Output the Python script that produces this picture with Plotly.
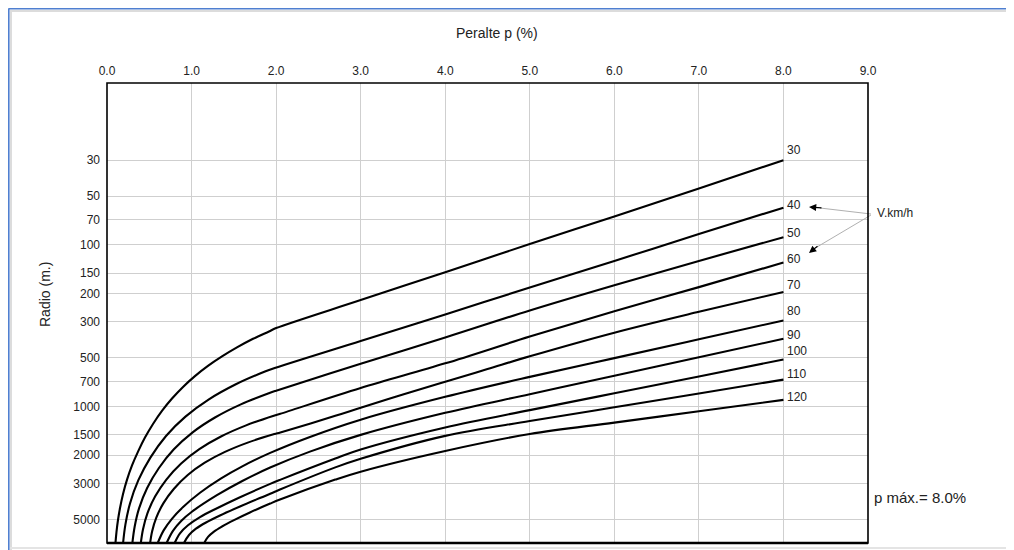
import math
import plotly.graph_objects as go

# ---------------- data ----------------
speeds = [30, 40, 50, 60, 70, 80, 90, 100, 110, 120]

p_30 = [0.10, 0.112, 0.13, 0.154, 0.189, 0.237, 0.296, 0.367, 0.449, 0.544, 0.65, 0.769, 0.899,
        1.04, 1.194, 1.36, 1.537, 1.727, 1.916, 2.0, 3.0, 4.0, 5.0, 6.0, 7.0, 8.0]
r_30 = [7000, 5990, 5045, 4250, 3490, 2840, 2320, 1905, 1560, 1285, 1066, 894, 758,
        650, 562, 491, 432, 382, 344, 328, 220, 148, 99, 67, 45, 30]

p_40 = [0.19, 0.218, 0.272, 0.371, 0.513, 0.698, 0.928, 1.201, 1.518, 1.868, 1.95, 3.0, 4.0, 5.0, 6.0, 7.0, 8.0]
r_40 = [7000, 5370, 3984, 2861, 2074, 1524, 1157, 908, 733, 609, 587, 394, 270, 184, 126, 86, 59]

p_50 = [0.30, 0.327, 0.379, 0.475, 0.612, 0.791, 1.013, 1.277, 1.583, 1.921, 2.0, 3.0, 4.0, 5.0, 6.0, 7.0, 8.0]
r_50 = [7000, 5550, 4275, 3199, 2415, 1844, 1448, 1172, 972, 827, 800, 545, 375, 255, 178, 126, 90]

p_60 = [0.40, 0.426, 0.477, 0.570, 0.702, 0.877, 1.092, 1.348, 1.645, 1.973, 2.05, 3.0, 4.0, 5.0, 6.0, 7.0, 8.0]
r_60 = [7000, 5748, 4606, 3602, 2837, 2256, 1839, 1536, 1311, 1142, 1111, 770, 542, 370, 258, 183, 129]

p_70 = [0.51, 0.534, 0.582, 0.668, 0.792, 0.955, 1.156, 1.395, 1.672, 1.979, 2.05,
        2.7, 3.0, 3.5, 4.0, 4.5, 5.0, 6.0, 7.0, 8.0]
r_70 = [7000, 5916, 4894, 3966, 3233, 2658, 2231, 1913, 1670, 1484, 1450,
        1145, 1020, 845, 705, 588, 490, 350, 260, 196]

p_80 = [0.60, 0.67, 0.77, 0.90, 1.1, 1.35, 1.6, 1.93, 2.4, 3.0, 4.0, 5.0, 6.0, 7.0, 8.0]
r_80 = [7000, 5850, 4945, 4193, 3423, 2788, 2349, 1940, 1546, 1209, 873, 657, 503, 385, 294]

p_90 = [0.705, 0.78, 0.88, 1.0, 1.3, 1.6, 1.93, 2.4, 3.0, 4.0, 5.0, 6.0, 7.0, 8.0]
r_90 = [7000, 5885, 5095, 4500, 3544, 2894, 2390, 1905, 1501, 1096, 841, 646, 497, 382]

p_100 = [0.80, 0.863, 0.958, 1.10, 1.301, 1.573, 1.93, 2.046, 2.7, 3.0, 4.0, 5.0, 6.0, 7.0, 8.0]
r_100 = [7000, 6098, 5439, 4839, 4268, 3648, 3017, 2849, 2102, 1849, 1351, 1055, 830, 653, 513]

p_110 = [0.91, 0.97, 1.052, 1.171, 1.336, 1.573, 1.93, 2.046, 2.7, 3.0, 4.0, 5.0, 6.0, 7.0, 8.0]
r_110 = [7000, 6249, 5711, 5228, 4730, 4160, 3470, 3268, 2384, 2109, 1522, 1233, 1013, 832, 683]

p_120 = [1.15, 1.195, 1.265, 1.36, 1.502, 1.69, 1.93, 2.046, 2.7, 3.0, 4.0, 5.0, 6.0, 7.0, 8.0]
r_120 = [7000, 6419, 5954, 5536, 5052, 4532, 3992, 3770, 2838, 2534, 1887, 1482, 1260, 1072, 912]

curves_p = [p_30, p_40, p_50, p_60, p_70, p_80, p_90, p_100, p_110, p_120]
curves_r = [r_30, r_40, r_50, r_60, r_70, r_80, r_90, r_100, r_110, r_120]

x_ticks = [0, 1, 2, 3, 4, 5, 6, 7, 8, 9]
y_ticks = [30, 50, 70, 100, 150, 200, 300, 500, 700, 1000, 1500, 2000, 3000, 5000, 7000]

# ---------------- styles / layout geometry ----------------
label_yshift = [10, 3, 4, 4, 7, 9, 4, 8, 6, 3]
FONT = "Liberation Sans, Arial, sans-serif"
OFF = 8                      # page body margin in the browser
W, H = 1014 - OFF, 550 - OFF
L, R, T, B = 107 - OFF, 868 - OFF, 83 - OFF, 543 - OFF


def px(xp):
    """reference page pixel x -> paper coordinate"""
    return (xp - OFF - L) / (R - L)


def py(yp):
    """reference page pixel y -> paper coordinate"""
    return (B - (yp - OFF)) / (B - T)


fig = go.Figure()
for v, xs, rs in zip(speeds, curves_p, curves_r):
    fig.add_trace(go.Scatter(
        x=xs, y=rs, mode="lines", name=str(v),
        line=dict(color="black", width=2.1, shape="spline", smoothing=1.0),
        showlegend=False, hoverinfo="skip"))

annotations = []
for v, xs, rs, dy in zip(speeds, curves_p, curves_r, label_yshift):
    annotations.append(dict(
        x=xs[-1], y=math.log10(rs[-1]), xref="x", yref="y",
        text=str(v), showarrow=False, xanchor="left", yanchor="middle",
        xshift=2, yshift=dy, font=dict(size=12, color="#222", family=FONT)))

annotations += [
    dict(x=px(497), y=py(33), xref="paper", yref="paper", text="Peralte p (%)",
         showarrow=False, xanchor="center", yanchor="middle",
         font=dict(size=14, color="#222", family=FONT)),
    dict(x=px(45), y=py(295), xref="paper", yref="paper", text="Radio (m.)",
         showarrow=False, xanchor="center", yanchor="middle", textangle=-90,
         font=dict(size=14, color="#222", family=FONT)),
    dict(x=px(875), y=py(213), xref="paper", yref="paper", text="V.km/h",
         showarrow=False, xanchor="left", yanchor="middle",
         font=dict(size=12, color="#222", family=FONT)),
    dict(x=px(872), y=py(497), xref="paper", yref="paper", text="p máx.= 8.0%",
         showarrow=False, xanchor="left", yanchor="middle",
         font=dict(size=15, color="#222", family=FONT)),
    # arrowheads
    dict(x=px(809), y=py(207), xref="paper", yref="paper", ax=14, ay=1,
         axref="pixel", ayref="pixel", text="", showarrow=True, arrowhead=2,
         arrowsize=1.2, arrowwidth=1.2, arrowcolor="black"),
    dict(x=px(809), y=py(253), xref="paper", yref="paper", ax=10, ay=-8,
         axref="pixel", ayref="pixel", text="", showarrow=True, arrowhead=2,
         arrowsize=1.2, arrowwidth=1.2, arrowcolor="black"),
]

shapes = [
    # pointer lines
    dict(type="line", xref="paper", yref="paper", x0=px(871), y0=py(214), x1=px(820), y1=py(208),
         line=dict(color="#b0b0b0", width=1)),
    dict(type="line", xref="paper", yref="paper", x0=px(871), y0=py(215), x1=px(817), y1=py(247),
         line=dict(color="#b0b0b0", width=1)),
    # plot frame
    dict(type="rect", xref="paper", yref="paper", x0=0, y0=0, x1=1, y1=1,
         line=dict(color="black", width=1.6)),
    dict(type="line", xref="paper", yref="paper", x0=0, y0=0, x1=1, y1=0,
         line=dict(color="black", width=2.4)),
    # screenshot frame
    dict(type="line", xref="paper", yref="paper", x0=px(8.5), y0=py(8.8), x1=px(1014), y1=py(8.8),
         line=dict(color="#4f7fd0", width=1.6)),
    dict(type="line", xref="paper", yref="paper", x0=px(8.8), y0=py(8.5), x1=px(8.8), y1=py(550),
         line=dict(color="#4f7fd0", width=1.6)),
    dict(type="line", xref="paper", yref="paper", x0=px(10), y0=py(11), x1=px(1014), y1=py(11),
         line=dict(color="#dcdcdc", width=2)),
    dict(type="line", xref="paper", yref="paper", x0=px(11), y0=py(10), x1=px(11), y1=py(550),
         line=dict(color="#dcdcdc", width=2)),
    dict(type="line", xref="paper", yref="paper", x0=px(10), y0=py(548), x1=px(1014), y1=py(548),
         line=dict(color="#e4e4e4", width=2)),
]

fig.update_layout(
    width=W, height=H,
    margin=dict(l=L, r=W - R, t=T, b=H - B, pad=0),
    paper_bgcolor="white", plot_bgcolor="white",
    font=dict(family=FONT, size=12, color="#222"),
    showlegend=False,
    annotations=annotations,
    shapes=shapes,
    xaxis=dict(
        side="top", range=[0, 9], tickvals=x_ticks,
        ticktext=[f"{t:.1f}" for t in x_ticks],
        showgrid=True, gridcolor="#cfcfcf", gridwidth=1,
        zeroline=False, showline=False, ticks="", ticklabelstandoff=5,
        tickfont=dict(size=12, color="#222", family=FONT)),
    yaxis=dict(
        type="log", range=[math.log10(7000), 1.0], tickvals=y_ticks,
        ticktext=[str(t) for t in y_ticks],
        showgrid=True, gridcolor="#cfcfcf", gridwidth=1,
        zeroline=False, showline=False, ticks="", ticklabelstandoff=6,
        tickfont=dict(size=12, color="#222", family=FONT)),
)

fig.write_html("out.html")
